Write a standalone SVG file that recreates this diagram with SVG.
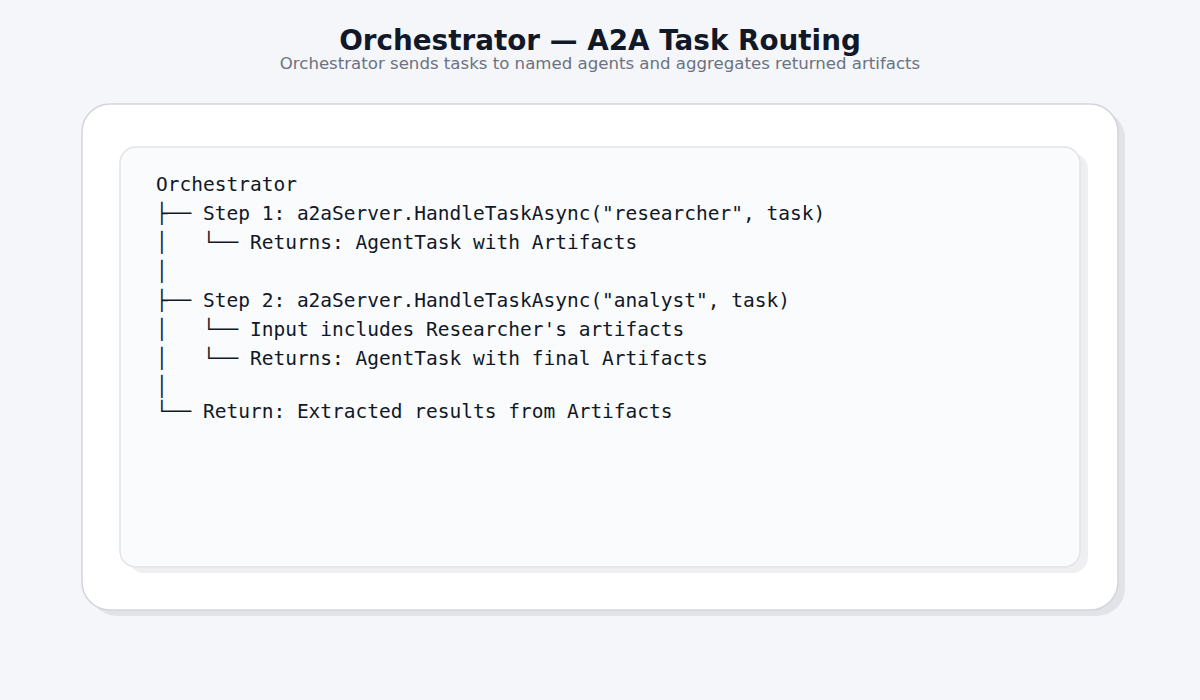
<svg xmlns="http://www.w3.org/2000/svg" width="1200" height="700" viewBox="0 0 1200 700">
  <style>
    .title { font-family: "DejaVu Sans", "Liberation Sans", sans-serif; font-weight: bold; font-size: 27.8px; fill: #111827; }
    .subtitle { font-family: "DejaVu Sans", "Liberation Sans", sans-serif; font-size: 16.6px; fill: #6b7280; }
    .code { font-family: "DejaVu Sans Mono", "Liberation Mono", monospace; font-size: 19.5px; fill: #111827; white-space: pre; }
  </style>
  <rect width="1200" height="700" fill="#f5f6fa"/>
  <text class="title" x="600" y="50" text-anchor="middle">Orchestrator — A2A Task Routing</text>
  <text class="subtitle" x="600" y="69" text-anchor="middle">Orchestrator sends tasks to named agents and aggregates returned artifacts</text>
  <g id="outer-card">
    <rect x="89" y="110" width="1036" height="506" rx="28" fill="#e2e3e8"/>
    <rect x="82" y="104" width="1036" height="506" rx="28" fill="#ffffff" stroke="#d1d5db" stroke-width="1.5"/>
  </g>
  <g id="code-panel">
    <rect x="128" y="153" width="960" height="420" rx="16" fill="#efeff2"/>
    <rect x="120" y="147" width="960" height="420" rx="16" fill="#fafbfc" stroke="#e1e3e8" stroke-width="1.5"/>
    <text class="code" xml:space="preserve">
      <tspan x="156" y="191">Orchestrator</tspan>
      <tspan x="156" y="220">├── Step 1: a2aServer.HandleTaskAsync("researcher", task)</tspan>
      <tspan x="156" y="249">│   └── Returns: AgentTask with Artifacts</tspan>
      <tspan x="156" y="278">│</tspan>
      <tspan x="156" y="307">├── Step 2: a2aServer.HandleTaskAsync("analyst", task)</tspan>
      <tspan x="156" y="336">│   └── Input includes Researcher's artifacts</tspan>
      <tspan x="156" y="365">│   └── Returns: AgentTask with final Artifacts</tspan>
      <tspan x="156" y="393">│</tspan>
      <tspan x="156" y="418">└── Return: Extracted results from Artifacts</tspan>
    </text>
  </g>
  <g id="connectors"/>
</svg>
